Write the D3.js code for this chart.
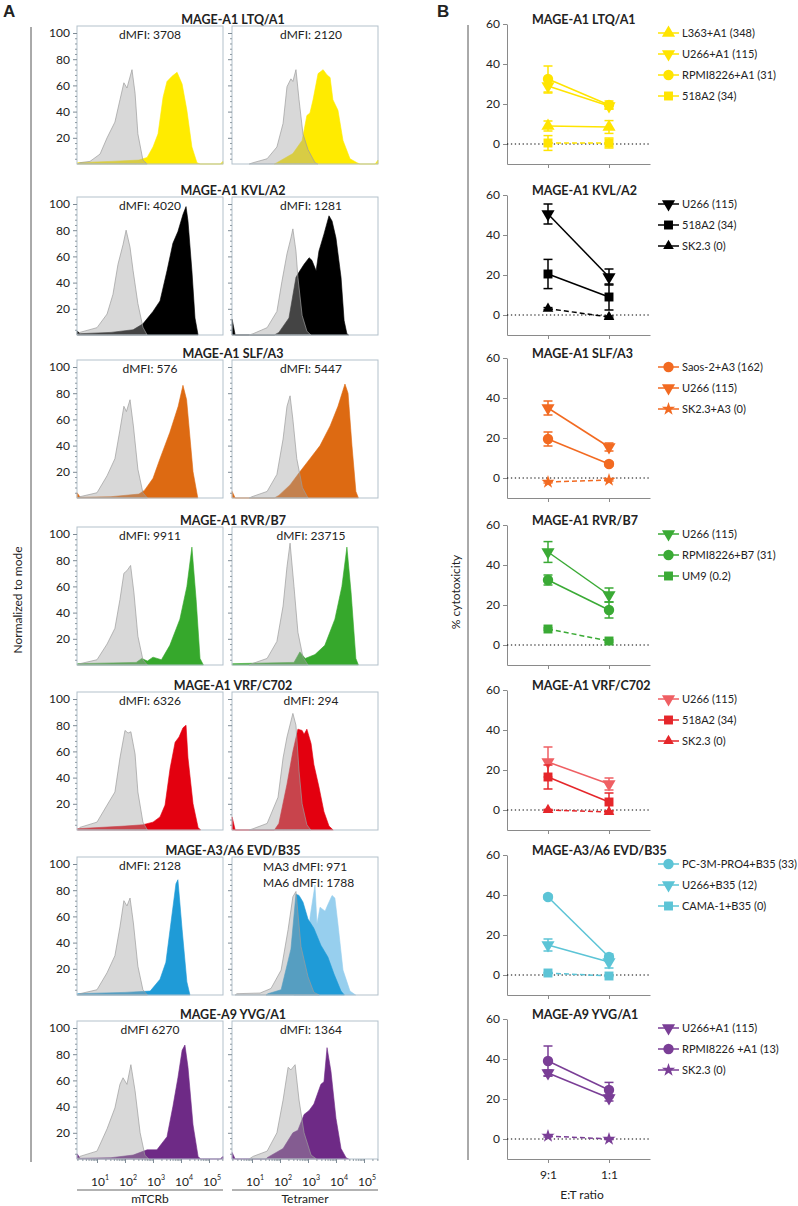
<!DOCTYPE html>
<html>
<head>
<meta charset="utf-8">
<script src="https://cdn.jsdelivr.net/npm/d3@7"></script>
<style>
body { margin: 0; background: #fff; }
text { font-family: Lato, 'Noto Sans', sans-serif; fill: #222; }
</style>
</head>
<body>
<svg id="fig" width="798" height="1206"></svg>
<script>
// ---- panel A: histograms, points are [log10 intensity, % of mode] ----
const rowTitles = ['MAGE-A1 LTQ/A1', 'MAGE-A1 KVL/A2', 'MAGE-A1 SLF/A3', 'MAGE-A1 RVR/B7',
    'MAGE-A1 VRF/C702', 'MAGE-A3/A6 EVD/B35', 'MAGE-A9 YVG/A1']

const ltqMtcrCtrl = [[0.3,0],[0.39,1],[0.75,2],[1.11,7.6],[1.36,20],[1.64,32],[1.82,49],[1.96,62],[2.07,58],[2.25,72],[2.36,54],[2.46,23],[2.64,3],[2.79,0]]
const ltqMtcrStain = [[0.3,1],[1.5,2],[2.5,3],[2.79,5],[3.0,13],[3.18,23],[3.36,51],[3.5,63],[3.68,67],[3.86,70],[4.04,61],[4.21,41],[4.39,13],[4.57,1],[4.68,0],[5.4,0],[5.5,2]]
const ltqTetCtrl = [[0.9,0],[1.04,1],[1.54,4],[1.89,13],[2.11,31],[2.25,59],[2.39,65],[2.46,63],[2.57,72],[2.68,49],[2.82,23],[3.0,11],[3.25,1],[3.35,0]]
const ltqTetStain = [[1.8,0],[1.89,1],[2.46,8],[2.79,18],[2.96,37],[3.07,39],[3.18,49],[3.36,69],[3.54,72],[3.68,68],[3.79,66],[3.89,49],[4.07,41],[4.25,18],[4.5,4],[4.75,1],[4.85,0],[5.4,0],[5.5,3]]

const kvlMtcrCtrl = [[0.3,0],[0.39,2],[1.0,5.6],[1.36,16],[1.57,31],[1.75,54],[1.93,69],[2.04,80],[2.18,67],[2.29,49],[2.46,24],[2.64,6],[2.79,0]]
const kvlMtcrStain = [[0.29,3],[0.4,1],[1.5,2],[2.29,4],[2.64,8.5],[3.0,18],[3.25,26],[3.5,49],[3.71,70],[3.89,79],[4.07,92],[4.18,98],[4.25,87],[4.39,49],[4.5,13],[4.61,0]]
const kvlTetCtrl = [[0.9,0],[1.04,1],[1.54,5.6],[1.89,18],[2.07,41],[2.25,62],[2.39,74],[2.46,81],[2.57,64],[2.64,44],[2.79,15],[2.96,3],[3.1,0]]
const kvlTetStain = [[0.29,12],[0.4,0],[1.8,0],[1.96,2],[2.32,13],[2.57,44],[2.68,48],[2.86,54],[3.04,59],[3.14,57],[3.29,49],[3.39,64],[3.57,77],[3.75,91],[3.86,87],[4.0,74],[4.18,44],[4.29,11],[4.39,1],[4.45,0]]

const slfMtcrCtrl = [[0.3,0],[0.39,1],[1.0,4],[1.36,17],[1.64,30],[1.82,52],[1.96,70],[2.05,66],[2.18,75],[2.3,55],[2.46,22],[2.64,4],[2.8,0]]
const slfMtcrStain = [[0.29,4],[0.4,0.5],[1.5,1],[2.5,3],[2.7,6],[3.0,15],[3.25,30],[3.6,50],[3.9,70],[4.07,86],[4.2,75],[4.43,20],[4.6,0]]
const slfTetCtrl = [[0.9,0],[1.0,1],[1.54,5],[1.89,18],[2.11,45],[2.25,70],[2.36,78],[2.46,60],[2.6,30],[2.8,8],[3.0,0]]
const slfTetStain = [[0.29,5],[0.4,0],[1.8,0],[1.96,2],[2.36,10],[2.71,20],[3.07,30],[3.43,40],[3.79,55],[4.07,70],[4.32,87],[4.43,80],[4.57,40],[4.71,5],[4.8,0]]

const rvrMtcrCtrl = [[0.3,0],[0.39,1],[1.0,4],[1.36,16],[1.64,28],[1.82,50],[1.96,70],[2.07,72],[2.2,76],[2.32,55],[2.46,22],[2.64,4],[2.8,0]]
const rvrMtcrStain = [[0.3,1],[2.4,2],[2.6,5],[2.8,3],[3.0,6],[3.3,4],[3.6,15],[3.96,35],[4.21,60],[4.39,90],[4.54,50],[4.68,5],[4.8,0]]
const rvrTetCtrl = [[0.9,0],[1.0,1],[1.54,5],[1.89,18],[2.11,45],[2.25,75],[2.36,93],[2.5,60],[2.64,25],[2.82,6],[3.0,0]]
const rvrTetStain = [[0.3,1],[2.5,2],[2.71,10],[2.9,5],[3.25,8],[3.6,15],[3.96,35],[4.21,60],[4.39,90],[4.54,55],[4.71,5],[4.8,0]]

const vrfMtcrCtrl = [[0.3,0],[0.39,2],[1.0,6],[1.36,19],[1.64,29],[1.82,55],[2.0,76],[2.11,74],[2.21,75],[2.36,58],[2.46,29],[2.64,6],[2.8,0]]
const vrfMtcrStain = [[0.3,1],[2.0,3],[2.64,4],[3.0,6],[3.25,10],[3.43,19],[3.61,47],[3.79,67],[3.93,71],[4.07,78],[4.18,80],[4.25,55],[4.43,20],[4.61,2],[4.7,0]]
const vrfTetCtrl = [[0.9,0],[1.04,1],[1.54,5],[1.93,25],[2.11,55],[2.25,71],[2.46,89],[2.57,80],[2.68,45],[2.79,20],[2.96,4],[3.1,0]]
const vrfTetStain = [[0.29,10],[0.4,0],[1.8,0],[1.96,5],[2.25,35],[2.46,60],[2.64,77],[2.79,76],[2.86,73],[2.96,77],[3.11,66],[3.21,50],[3.39,33],[3.57,14],[3.75,3],[3.9,0]]

const evdMtcrCtrl = [[0.3,0],[0.39,1],[1.0,4],[1.36,17],[1.64,30],[1.82,52],[1.96,72],[2.07,68],[2.18,74],[2.3,55],[2.46,22],[2.64,4],[2.8,0]]
const evdMtcrStain = [[0.3,1],[2.0,2],[2.9,3],[3.25,12],[3.46,25],[3.64,55],[3.82,85],[3.89,88],[4.04,50],[4.21,10],[4.32,0]]
const evdTetCtrl = [[0.4,0],[0.46,1],[1.29,1.5],[1.68,5],[2.04,19],[2.29,50],[2.46,75],[2.57,79],[2.75,37],[3.0,14],[3.21,2],[3.4,0]]
const evdTetA3 = [[1.5,0],[1.57,1],[2.04,4],[2.39,35],[2.57,77],[2.68,76],[2.82,71],[3.0,58],[3.21,51],[3.46,38],[3.71,29],[3.93,16],[4.18,3],[4.3,0]]
const evdTetA6 = [[2.5,0],[2.6,2],[3.0,19],[3.07,59],[3.25,84],[3.32,54],[3.43,67],[3.61,64],[3.71,69],[3.86,76],[3.96,74],[4.07,54],[4.25,19],[4.5,3],[4.7,0]]

const yvgMtcrCtrl = [[0.3,0],[0.39,2],[1.0,6],[1.36,23],[1.64,39],[1.82,57],[1.93,62],[2.07,57],[2.21,72],[2.36,52],[2.54,20],[2.71,3],[2.85,0]]
const yvgMtcrStain = [[0.29,4],[0.4,0.5],[1.5,1],[2.29,3],[2.79,7],[3.14,7],[3.5,17],[3.71,40],[3.89,62],[4.04,83],[4.14,87],[4.25,70],[4.43,26],[4.61,2],[4.7,0],[5.4,0],[5.5,2]]
const yvgTetCtrl = [[0.9,0],[1.04,2],[1.54,6],[1.89,20],[2.11,45],[2.29,70],[2.39,68],[2.54,72],[2.68,45],[2.86,20],[3.11,3],[3.3,0]]
const yvgTetStain = [[0.29,5],[0.4,0],[1.5,0],[1.54,1],[2.11,8],[2.46,20],[2.64,22],[2.86,34],[3.04,37],[3.21,42],[3.46,57],[3.57,59],[3.68,85],[3.82,67],[4.0,31],[4.18,8],[4.36,1],[4.45,0]]

const mtcrLabels = ['dMFI: 3708', 'dMFI: 4020', 'dMFI: 576', 'dMFI: 9911', 'dMFI: 6326', 'dMFI: 2128', 'dMFI 6270']
const tetLabels = [['dMFI: 2120'], ['dMFI: 1281'], ['dMFI: 5447'], ['dMFI: 23715'], ['dMFI: 294'],
    ['MA3 dMFI: 971', 'MA6 dMFI: 1788'], ['dMFI: 1364']]
const decades = [1, 2, 3, 4, 5]

// ---- panel B: % cytotoxicity, mean and error at each E:T ratio ----
const etRatios = ['9:1', '1:1']
const ltqCyto = [
    { name: 'L363+A1 (348)', shape: 'up', mean: [9, 8.5], err: [2.5, 3.2] },
    { name: 'U266+A1 (115)', shape: 'down', mean: [29, 19], err: [3.5, 1.5] },
    { name: 'RPMI8226+A1 (31)', shape: 'circle', mean: [32.5, 19.5], err: [6.5, 2] },
    { name: '518A2 (34)', shape: 'square', mean: [0.5, 0.5], err: [3.7, 2.5], dashed: true }
]
const kvlCyto = [
    { name: 'U266 (115)', shape: 'down', mean: [50.5, 19], err: [5, 4] },
    { name: '518A2 (34)', shape: 'square', mean: [20.5, 9], err: [7.3, 6.5] },
    { name: 'SK2.3 (0)', shape: 'up', mean: [3.2, -1], err: [0.5, 0.5], dashed: true, small: true }
]
const slfCyto = [
    { name: 'Saos-2+A3 (162)', shape: 'circle', mean: [19.5, 7], err: [3.5, 1] },
    { name: 'U266 (115)', shape: 'down', mean: [35, 15.5], err: [3.5, 2] },
    { name: 'SK2.3+A3 (0)', shape: 'star', mean: [-2, -1], err: [0.5, 0.5], dashed: true }
]
const rvrCyto = [
    { name: 'U266 (115)', shape: 'down', mean: [46.5, 25], err: [5.2, 3.5] },
    { name: 'RPMI8226+B7 (31)', shape: 'circle', mean: [32.5, 17.5], err: [2.5, 4] },
    { name: 'UM9 (0.2)', shape: 'square', mean: [8, 2], err: [0.5, 0.5], dashed: true }
]
const vrfCyto = [
    { name: 'U266 (115)', shape: 'down', mean: [24, 13], err: [7.5, 3], tint: '#ef5f63' },
    { name: '518A2 (34)', shape: 'square', mean: [16.5, 4], err: [6, 4.5] },
    { name: 'SK2.3 (0)', shape: 'up', mean: [0, -1], err: [0.3, 0.5], dashed: true, small: true }
]
const evdCyto = [
    { name: 'PC-3M-PRO4+B35 (33)', shape: 'circle', mean: [39, 9], err: [1, 1.5] },
    { name: 'U266+B35 (12)', shape: 'down', mean: [15, 6.5], err: [3, 3] },
    { name: 'CAMA-1+B35 (0)', shape: 'square', mean: [1, -0.5], err: [0.3, 0.3], dashed: true }
]
const yvgCyto = [
    { name: 'U266+A1 (115)', shape: 'down', mean: [33, 20.5], err: [1.5, 1.5] },
    { name: 'RPMI8226 +A1 (13)', shape: 'circle', mean: [39, 24.5], err: [7.5, 3.8] },
    { name: 'SK2.3 (0)', shape: 'star', mean: [1.5, 0], err: [0.5, 0.3], dashed: true }
]

// colours per row: histogram fill, cytotoxicity series
const histColors = ['#ffeb00', '#000000', '#dd6a12', '#36a82c', '#e3000f', '#1f9bd7', '#6e2a86']
const cytoColors = ['#ffe400', '#000000', '#f26a21', '#3aaa35', '#e5262a', '#5cc4d6', '#7a3e96']

// layout
const rowTop = [19, 190, 353, 520, 685, 850, 1014]
const boxLeft = [77, 232]
const boxW = 146, boxH = 138

const svg = d3.select('#fig')

const rowsA = [
    [ltqMtcrCtrl, [ltqMtcrStain], ltqTetCtrl, [ltqTetStain]],
    [kvlMtcrCtrl, [kvlMtcrStain], kvlTetCtrl, [kvlTetStain]],
    [slfMtcrCtrl, [slfMtcrStain], slfTetCtrl, [slfTetStain]],
    [rvrMtcrCtrl, [rvrMtcrStain], rvrTetCtrl, [rvrTetStain]],
    [vrfMtcrCtrl, [vrfMtcrStain], vrfTetCtrl, [vrfTetStain]],
    [evdMtcrCtrl, [evdMtcrStain], evdTetCtrl, [evdTetA6, evdTetA3]],
    [yvgMtcrCtrl, [yvgMtcrStain], yvgTetCtrl, [yvgTetStain]]
]
const rowsB = [ltqCyto, kvlCyto, slfCyto, rvrCyto, vrfCyto, evdCyto, yvgCyto]

// panel letters and side labels
svg.append('text').attr('x', 3).attr('y', 17).style('font-family', 'Liberation Sans, Arial')
    .attr('font-weight', 'bold').attr('font-size', 17).text('A')
svg.append('text').attr('x', 437).attr('y', 17).style('font-family', 'Liberation Sans, Arial')
    .attr('font-weight', 'bold').attr('font-size', 17).text('B')
svg.append('line').attr('x1', 31).attr('x2', 31).attr('y1', 27).attr('y2', 1162).attr('stroke', '#555')
svg.append('line').attr('x1', 468).attr('x2', 468).attr('y1', 25).attr('y2', 1160).attr('stroke', '#555')
svg.append('text').attr('transform', 'translate(22,600) rotate(-90)').attr('text-anchor', 'middle')
    .attr('font-size', 12).text('Normalized to mode')
svg.append('text').attr('transform', 'translate(460,592) rotate(-90)').attr('text-anchor', 'middle')
    .attr('font-size', 12).text('% cytotoxicity')

// ---- draw panel A ----
rowsA.forEach((row, i) => {
    const t = rowTop[i]
    const top = t + 7, bottom = top + boxH
    svg.append('text').attr('x', 233).attr('y', t + 4.5).attr('text-anchor', 'middle')
        .attr('font-weight', 'bold').attr('font-size', 12.5).text(rowTitles[i])

    ;[0, 1].forEach(j => {
        const ctrl = row[j * 2], stains = row[j * 2 + 1]
        const x = d3.scaleLog().domain([10 ** 0.286, 10 ** 5.5]).range([boxLeft[j], boxLeft[j] + boxW])
        const y = d3.scaleLinear().domain([0, 100]).range([bottom, bottom - 131])
        const area = d3.area().x(d => x(10 ** d[0])).y0(bottom).y1(d => y(d[1]))
        const g = svg.append('g')

        stains.forEach((s, k) => {
            const col = (i === 5 && j === 1 && k === 0) ? '#97cfee' : histColors[i]
            g.append('path').datum(s).attr('d', area)
                .attr('fill', col).attr('stroke', col).attr('stroke-width', 0.6)
        })
        g.append('path').datum(ctrl).attr('d', area)
            .attr('fill', '#a3a3a3').attr('fill-opacity', 0.42)
            .attr('stroke', '#9c9c9c').attr('stroke-width', 0.7)

        g.append('rect').attr('x', boxLeft[j]).attr('y', top).attr('width', boxW).attr('height', boxH)
            .attr('fill', 'none').attr('stroke', '#b3c1cb')

        // y axis
        const ax = g.append('g').attr('transform', `translate(${boxLeft[j]},0)`)
            .call(d3.axisLeft(y).tickValues([20, 40, 60, 80, 100]).tickSize(4)
                .tickFormat(j === 0 ? d3.format('d') : () => ''))
        ax.select('.domain').remove()
        ax.selectAll('line').attr('stroke', '#7d8a94')
        ax.selectAll('text').attr('font-size', 12).attr('fill', '#333').style('font-family', 'Lato')
        const minor = g.append('g').attr('transform', `translate(${boxLeft[j]},0)`)
            .call(d3.axisLeft(y).tickValues(d3.range(4, 104, 4).filter(v => v % 20 !== 0)).tickSize(2).tickFormat(''))
        minor.select('.domain').remove()
        minor.selectAll('line').attr('stroke', '#8d99a2')

        // dMFI labels
        if (j === 0) {
            g.append('text').attr('x', 150).attr('y', top + 13).attr('text-anchor', 'middle')
                .attr('font-size', 12).text(mtcrLabels[i])
        } else if (tetLabels[i].length === 1) {
            g.append('text').attr('x', 311).attr('y', top + 13).attr('text-anchor', 'middle')
                .attr('font-size', 12).text(tetLabels[i][0])
        } else {
            tetLabels[i].forEach((lab, k) => {
                g.append('text').attr('x', 263).attr('y', top + 14 + k * 16)
                    .attr('font-size', 12).text(lab)
            })
        }

        // x axis on the last row only
        if (i === rowsA.length - 1) {
            const majors = decades.map(d => 10 ** d)
            const minors = []
            for (let k = 0; k <= 5; k++) for (let m = 2; m <= 9; m++) {
                const v = m * 10 ** k
                if (v > x.domain()[0] && v < x.domain()[1]) minors.push(v)
            }
            const xa = g.append('g').attr('transform', `translate(0,${bottom})`)
                .call(d3.axisBottom(x).tickValues(majors).tickSize(4).tickFormat(''))
            xa.select('.domain').remove()
            xa.selectAll('line').attr('stroke', '#7d8a94')
            const xm = g.append('g').attr('transform', `translate(0,${bottom})`)
                .call(d3.axisBottom(x).tickValues(minors).tickSize(2).tickFormat(''))
            xm.select('.domain').remove()
            xm.selectAll('line').attr('stroke', '#8d99a2')
            decades.forEach(d => {
                const tx = g.append('text').attr('x', x(10 ** d) - 6).attr('y', bottom + 27)
                    .attr('font-size', 12).text('10')
                tx.append('tspan').attr('dy', -6).attr('font-size', 7).text(d)
            })
            g.append('line').attr('x1', boxLeft[j]).attr('x2', boxLeft[j] + boxW)
                .attr('y1', bottom + 31).attr('y2', bottom + 31).attr('stroke', '#666')
            g.append('text').attr('x', boxLeft[j] + boxW / 2).attr('y', bottom + 44).attr('text-anchor', 'middle')
                .attr('font-size', 12).text(j === 0 ? 'mTCRb' : 'Tetramer')
        }
    })
})

// ---- draw panel B ----
const symbolFor = {
    up: d3.symbolTriangle, down: d3.symbolTriangle, circle: d3.symbolCircle,
    square: d3.symbolSquare, star: d3.symbolStar
}
const symbolSize = { up: 75, down: 75, circle: 85, square: 80, star: 55 }
const drawMarker = (g, shape, cx, cy, color, small) => {
    g.append('path').attr('d', d3.symbol(symbolFor[shape], symbolSize[shape] * (small ? 0.65 : 1))())
        .attr('transform', `translate(${cx},${cy})${shape === 'down' ? ' rotate(180)' : ''}`)
        .attr('fill', color)
}
const bX = d3.scaleLinear().domain([-0.672, 1.672]).range([507, 650])

rowsB.forEach((series, i) => {
    const t = rowTop[i]
    const y = d3.scaleLinear().domain([-10, 60]).range([t + 145, t + 5])
    const g = svg.append('g')

    g.append('text').attr('x', 532).attr('y', t + 4.5).attr('font-weight', 'bold')
        .attr('font-size', 12.5).text(rowTitles[i])

    const ya = g.append('g').attr('transform', 'translate(507,0)')
        .call(d3.axisLeft(y).tickValues([0, 20, 40, 60]).tickSize(4).tickSizeOuter(0))
    ya.selectAll('path,line').attr('stroke', '#8a8a8a')
    ya.selectAll('text').attr('font-size', 12).attr('fill', '#222').style('font-family', 'Lato')

    const xa = g.append('g').attr('transform', `translate(0,${y(-10)})`)
        .call(d3.axisBottom(bX).tickValues([0, 1]).tickSize(4).tickSizeOuter(0)
            .tickFormat(i === rowsB.length - 1 ? (d => etRatios[d]) : () => ''))
    xa.selectAll('path,line').attr('stroke', '#8a8a8a')
    xa.selectAll('text').attr('font-size', 12).attr('fill', '#222').attr('dy', '1.1em').style('font-family', 'Lato')

    g.append('line').attr('x1', bX.range()[0]).attr('x2', bX.range()[1])
        .attr('y1', y(0)).attr('y2', y(0))
        .attr('stroke', '#000').attr('stroke-width', 1.2).attr('stroke-dasharray', '1.3,2.6')

    const line = d3.line().x((d, k) => bX(k)).y(d => y(d))
    series.forEach((s, k) => {
        const col = s.tint || cytoColors[i]
        g.append('path').datum(s.mean).attr('d', line).attr('fill', 'none')
            .attr('stroke', col).attr('stroke-width', 1.5)
            .attr('stroke-dasharray', s.dashed ? '5,3' : null)
        s.mean.forEach((m, p) => {
            const cx = bX(p)
            g.append('line').attr('x1', cx).attr('x2', cx).attr('y1', y(m - s.err[p])).attr('y2', y(m + s.err[p]))
                .attr('stroke', col).attr('stroke-width', 1.5)
            ;[m - s.err[p], m + s.err[p]].forEach(v => {
                g.append('line').attr('x1', cx - 4.5).attr('x2', cx + 4.5).attr('y1', y(v)).attr('y2', y(v))
                    .attr('stroke', col).attr('stroke-width', 1.5)
            })
            drawMarker(g, s.shape, cx, y(m), col, s.small)
        })

        // legend
        const ly = t + 5 + 9 + k * 21
        g.append('line').attr('x1', 658).attr('x2', 679).attr('y1', ly).attr('y2', ly)
            .attr('stroke', col).attr('stroke-width', 1.5)
        drawMarker(g, s.shape, 668.5, ly, col, s.small)
        g.append('text').attr('x', 682).attr('y', ly + 4).attr('font-size', 11).text(s.name)
    })

    if (i === rowsB.length - 1) {
        g.append('text').attr('x', 582).attr('y', y(-10) + 40).attr('text-anchor', 'middle')
            .attr('font-size', 12).text('E:T ratio')
    }
})
</script>
</body>
</html>
